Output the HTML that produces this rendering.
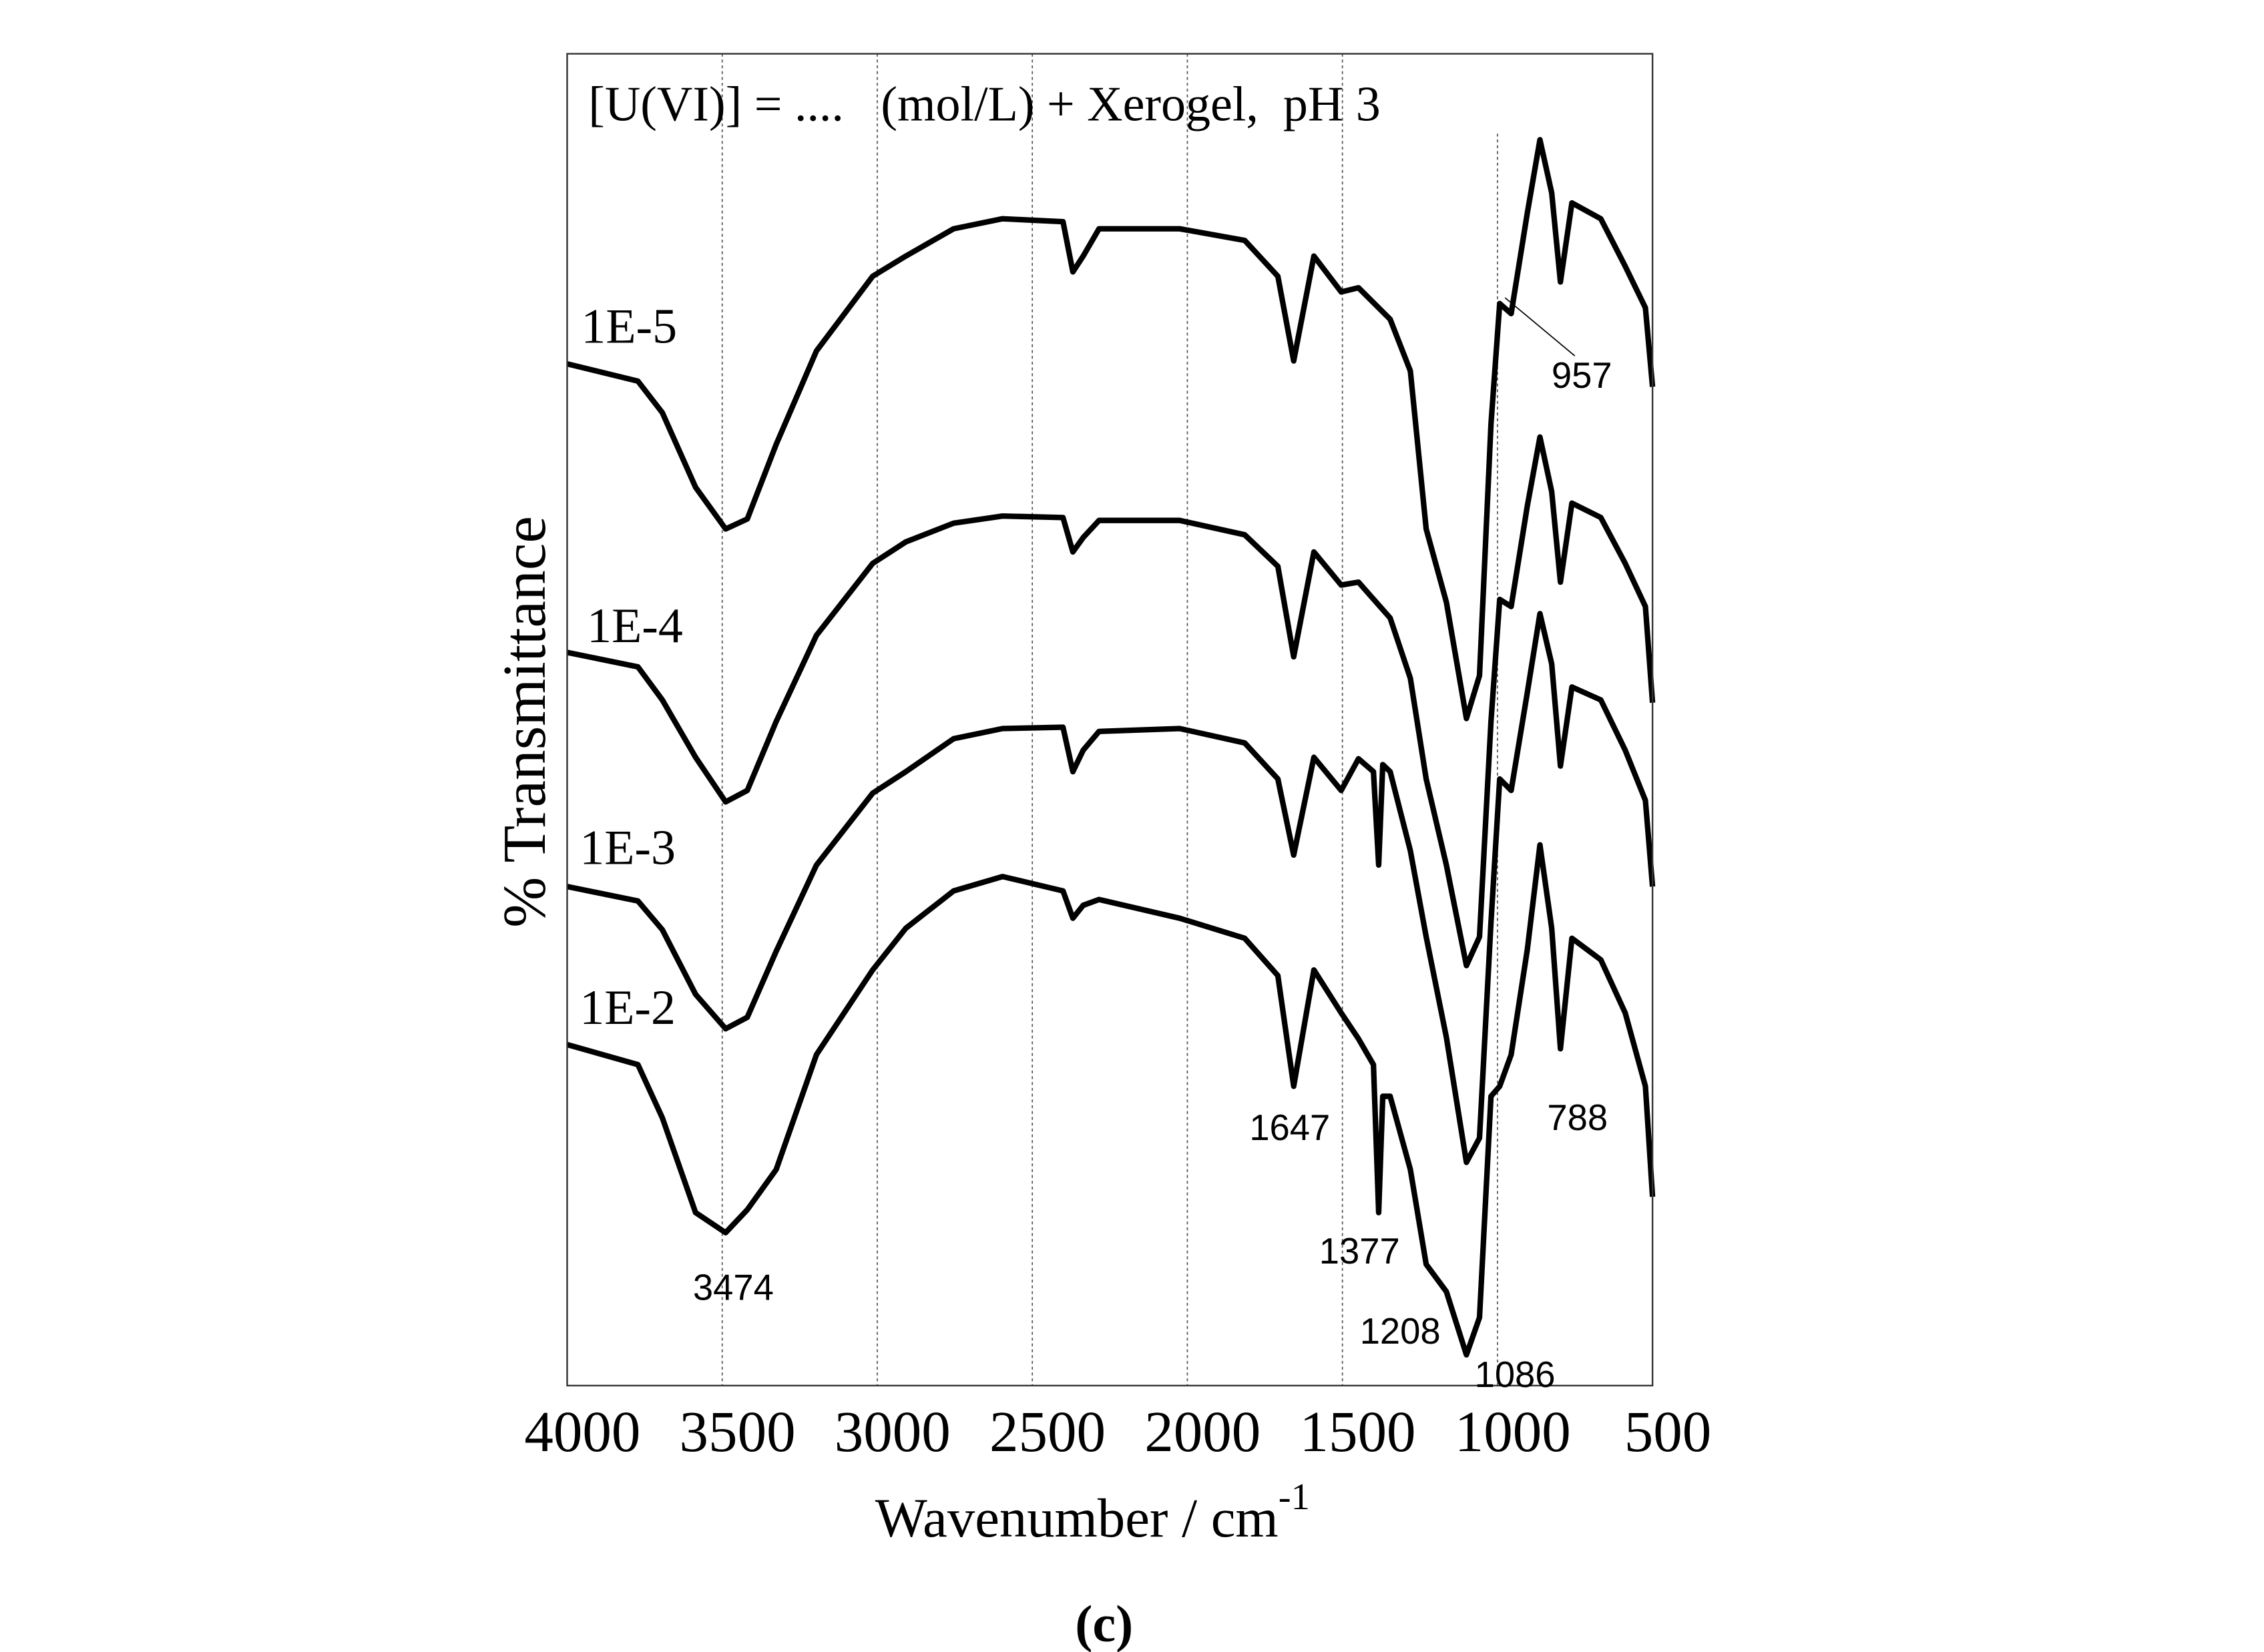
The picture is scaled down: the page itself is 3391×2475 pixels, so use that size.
<!DOCTYPE html>
<html><head><meta charset="utf-8"><style>
html,body{margin:0;padding:0;background:#fff}
svg{display:block}
</style></head><body>
<svg id="chart" width="3391" height="2475" viewBox="0 0 1558.4 1137.4" xmlns="http://www.w3.org/2000/svg">
<rect x="0" y="0" width="1558.4" height="1137.4" fill="#fff"/>
<g id="grid"></g>
<g id="curves"></g>
<rect x="390.4" y="37" width="747.1" height="917" fill="none" stroke="#333" stroke-width="1.1"/>
<g id="ticks" font-family="Liberation Serif, serif" font-size="40" text-anchor="middle"></g>
<text x="405" y="83" xml:space="preserve" font-family="Liberation Serif, serif" font-size="34">[U(VI)] = ....   (mol/L) + Xerogel,  pH 3</text>
<text x="752" y="1058" text-anchor="middle" font-family="Liberation Serif, serif" font-size="38">Wavenumber / cm<tspan dy="-19" font-size="26">-1</tspan></text>
<text transform="translate(375,497) rotate(-90)" text-anchor="middle" font-family="Liberation Serif, serif" font-size="42">% Transmittance</text>
<text x="760" y="1130" text-anchor="middle" font-family="Liberation Serif, serif" font-size="36" font-weight="bold">(c)</text>
<g font-family="Liberation Serif, serif" font-size="34">
<text x="400" y="236">1E-5</text>
<text x="404" y="442">1E-4</text>
<text x="399" y="595">1E-3</text>
<text x="399" y="705">1E-2</text>
</g>
<g font-family="Liberation Sans, sans-serif" font-size="25">
<line x1="1036" y1="205" x2="1084" y2="245" stroke="#000" stroke-width="0.8"/>
<text x="1068" y="267">957</text>
<text x="860" y="785">1647</text>
<text x="1065" y="778">788</text>
<text x="908" y="870">1377</text>
<text x="477" y="895">3474</text>
<text x="936" y="925">1208</text>
<text x="1015" y="955">1086</text>
</g>
</svg>
<script>
const xTicks = [4000, 3500, 3000, 2500, 2000, 1500, 1000, 500];
const gridLines = [3500, 3000, 2500, 2000, 1500, 1000];
const seriesNames = ["1E-5", "1E-4", "1E-3", "1E-2"];
// wavenumbers (cm-1)
const wnBase = [4000,3772,3693,3586,3489,3419,3326,3196,3015,2908,2754,2596,2401,2369,2336,2285,2025,1815,1708,1657,1592,1504,1448,1346,1281,1230,1165,1100,1058,1021,993,956,904,863,825,797,760,667,588,523,500];
const wnSharp = [4000,3772,3693,3586,3489,3419,3326,3196,3015,2908,2754,2596,2401,2369,2336,2285,2025,1815,1708,1657,1592,1504,1448,1400,1383,1370,1346,1281,1230,1165,1100,1058,1021,993,956,904,863,825,797,760,667,588,523,500];
// transmittance (arbitrary offset units, higher = more transmittance)
const t1E5 = [749,737,715,663,634,641,693,758,810,824,843,850,848,813,824,843,843,835,810,751,824,799,802,780,744,634,583,502,532,707,791,784,854,905,868,806,861,850,817,788,733];
const t1E4 = [548,538,515,475,444,452,500,560,610,625,638,643,642,618,628,640,640,630,608,545,618,595,597,572,530,460,400,330,350,500,585,580,650,698,660,597,652,642,610,580,513];
const t1E3 = [385,375,355,310,286,294,340,400,450,465,488,495,496,465,480,493,495,485,460,407,475,452,474,465,400,470,465,410,350,280,193,210,360,460,452,520,575,540,469,524,515,480,445,385];
const t1E2 = [275,261,224,158,144,160,188,268,327,356,382,392,382,363,372,376,363,349,323,246,327,297,279,261,158,239,239,188,122,103,59,85,239,246,268,341,414,356,272,349,334,297,246,169];

const X = w => 390.4 + (4000 - w) / 3500 * 747.1;
const Y = t => 2.3 + 0.9888 * (1000 - t);
const NS = "http://www.w3.org/2000/svg";

const grid = document.getElementById("grid");
gridLines.forEach(w => {
  const l = document.createElementNS(NS, "line");
  
  
  l.setAttribute("x1", X(w)); l.setAttribute("x2", X(w));
  l.setAttribute("y1", w === 1000 ? 92 : 37); l.setAttribute("y2", 954);
  l.setAttribute("stroke", "#555"); l.setAttribute("stroke-width", "0.8");
  l.setAttribute("stroke-dasharray", "2,2");
  grid.appendChild(l);
});

const ticks = document.getElementById("ticks");
xTicks.forEach(w => {
  const t = document.createElementNS(NS, "text");
  
  
  t.setAttribute("x", X(w) + 10.5); t.setAttribute("y", 999);
  t.textContent = w;
  ticks.appendChild(t);
});

const curves = document.getElementById("curves");
const seriesData = [[wnBase, t1E5], [wnBase, t1E4], [wnSharp, t1E3], [wnSharp, t1E2]];
seriesData.forEach((s, i) => {
  const [wn, tv] = s;
  const d = wn.map((w, k) => (k ? "L" : "M") + X(w).toFixed(1) + "," + Y(tv[k]).toFixed(1)).join(" ");
  const p = document.createElementNS(NS, "path");
  
  
  p.setAttribute("d", d);
  p.setAttribute("fill", "none"); p.setAttribute("stroke", "#000");
  p.setAttribute("stroke-width", "3.8"); p.setAttribute("stroke-linejoin", "round");
  curves.appendChild(p);
});
</script>
</body></html>
